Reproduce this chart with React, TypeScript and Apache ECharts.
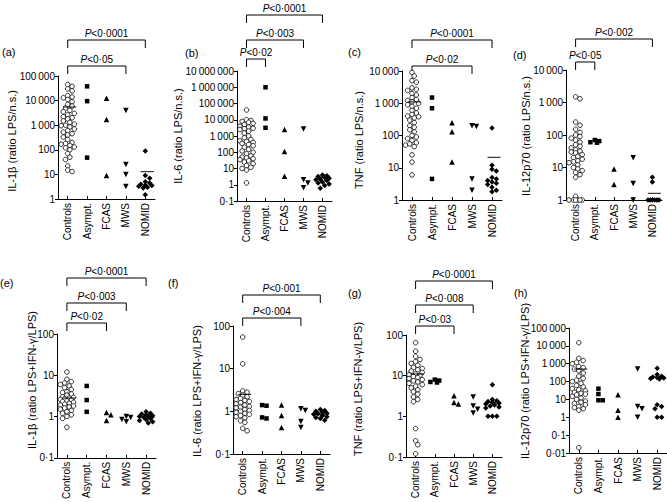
import { useEffect, useRef } from 'react';
import * as echarts from 'echarts';

const FONT = '"Liberation Sans", Arial, Helvetica, sans-serif';
const groups = ['Controls', 'Asympt.', 'FCAS', 'MWS', 'NOMID'];

// (a) IL-1β LPS/n.s.
const aControls = [45000, 38000, 30000, 25000, 16000, 14000, 13000, 11000, 9000, 7000, 6000, 5000, 4000, 3500, 3000, 2600, 2200, 2000, 1800, 1500, 1300, 1100, 1000, 950, 850, 700, 600, 520, 450, 400, 330, 260, 200, 180, 170, 150, 130, 120, 100, 70, 50, 40, 22, 15, 13];
const aAsympt = [38000, 9500, 48];
const aFCAS = [12500, 1700, 9];
const aMWS = [4000, 25, 10, 3.2];
const aNOMID = [90, 9, 7, 5, 4.5, 4, 3.6, 3.3, 3, 2.8, 3.5, 1.5];
const aMeans = [5500, null, null, null, 13];

// (b) IL-6 LPS/n.s.
const bControls = [40000, 10000, 9000, 8000, 7000, 6000, 5000, 4000, 3500, 3000, 2800, 2500, 2000, 1500, 1000, 800, 600, 500, 450, 400, 350, 300, 250, 200, 150, 120, 100, 80, 60, 50, 45, 40, 35, 30, 25, 20, 15, 12, 10, 8, 1.3];
const bAsympt = [1000000, 12000, 3200];
const bFCAS = [2500, 110, 3.3];
const bMWS = [2700, 2, 1.3, 0.65];
const bNOMID = [4, 3.6, 3.2, 2.8, 2.5, 2.2, 2, 1.8, 1.5, 1.3, 1.1, 0.9, 0.6];
const bMeans = [null, null, null, null, 2.8];

// (c) TNF LPS/n.s.
const cControls = [9000, 7000, 5000, 4500, 3000, 2700, 2500, 2000, 1800, 1500, 1300, 1200, 1100, 1000, 900, 800, 700, 600, 500, 450, 400, 380, 350, 300, 250, 200, 180, 150, 130, 100, 90, 80, 70, 60, 55, 50, 45, 25, 15, 6];
const cAsympt = [1500, 700, 4.5];
const cFCAS = [250, 130, 15];
const cMWS = [200, 190, 4.5, 2];
const cNOMID = [170, 12, 9, 8, 5, 4.5, 4, 3.6, 3.3, 3, 2.5, 2, 1.8];
const cMeans = [1100, null, null, null, 21];

// (d) IL-12p70 LPS/n.s.
const dControls = [1500, 1300, 250, 200, 150, 120, 100, 90, 80, 70, 60, 50, 45, 40, 35, 32, 30, 28, 25, 22, 20, 18, 16, 15, 14, 12, 10, 9, 8, 7, 6, 5, 1.3, 1, 1, 1, 1, 1, 1];
const dAsympt = [70, 65, 60, 58];
const dFCAS = [9, 3];
const dMWS = [20, 3.2, 1];
const dNOMID = [5, 3.6, 1, 1, 1, 1, 1, 1];
const dMeans = [null, null, null, null, 1.6];

// (e) IL-1β LPS+IFN-γ/LPS
const eControls = [12, 8, 7, 6.5, 6, 5.5, 5, 4.5, 4, 3.8, 3.5, 3.3, 3, 2.9, 2.8, 2.7, 2.6, 2.5, 2.4, 2.3, 2.2, 2.1, 2, 1.9, 1.8, 1.7, 1.6, 1.5, 1.4, 1.3, 1.2, 1.1, 1, 0.9, 0.55];
const eAsympt = [5.5, 2.5, 1.3];
const eFCAS = [1.25, 1.1, 0.8];
const eMWS = [1, 0.95, 0.85, 0.75];
const eNOMID = [1.3, 1.2, 1.15, 1.1, 1.05, 1, 1, 0.95, 0.9, 0.85, 0.8, 0.75, 0.7];
const eMeans = [2.8, null, null, null, 0.95];

// (f) IL-6 LPS+IFN-γ/LPS
const fControls = [55, 13, 3, 2.8, 2.6, 2.4, 2.2, 2, 1.9, 1.8, 1.7, 1.6, 1.5, 1.4, 1.3, 1.25, 1.2, 1.1, 1.05, 1, 0.95, 0.9, 0.85, 0.8, 0.75, 0.7, 0.6, 0.55, 0.4, 0.35];
const fAsympt = [1.4, 1.35, 0.72, 0.68];
const fFCAS = [1.4, 0.8, 0.42];
const fMWS = [1.15, 1.05, 0.58, 0.42];
const fNOMID = [1.1, 1.05, 1, 0.95, 0.9, 0.88, 0.85, 0.8, 0.75, 0.72, 0.68, 0.62];
const fMeans = [2.5, null, null, null, 0.85];

// (g) TNF LPS+IFN-γ/LPS
const gControls = [65, 40, 30, 25, 22, 20, 18, 16, 15, 14, 13, 12, 11, 10.5, 10, 9.5, 9, 8.5, 8, 7.5, 7, 6.5, 6, 5.5, 5, 4.5, 4, 3.5, 3, 2.6, 2.3, 0.5, 0.25, 0.2, 0.12];
const gAsympt = [8, 7.6, 7, 6.8];
const gFCAS = [3.2, 2.2, 2];
const gMWS = [3, 1.8, 1.5, 1.2];
const gNOMID = [6, 2.6, 2.4, 2.3, 2.2, 2.1, 2, 1.9, 1.8, 1.7, 1.6, 1, 1, 1];
const gMeans = [11, null, null, null, 2.2];

// (h) IL-12p70 LPS+IFN-γ/LPS
const hControls = [15000, 2000, 1500, 1200, 1000, 700, 600, 500, 400, 300, 200, 150, 120, 100, 80, 60, 50, 40, 35, 30, 25, 22, 20, 18, 15, 12, 10, 8, 7, 6, 5, 4, 3.5, 3, 2.5, 0.02];
const hAsympt = [40, 20, 9, 9];
const hFCAS = [18, 2.5, 1];
const hMWS = [500, 4, 3, 1];
const hNOMID = [550, 250, 200, 180, 170, 160, 150, 140, 5, 4, 3, 1, 1];
const hMeans = [500, null, null, null, 170];

type Bracket = { to: number; y: number; p: string };
type Panel = {
  letter: string; name: string; data: number[][]; means: (number | null)[];
  min: number; max: number;
  grid: { left: number; top: number; width: number; height: number };
  nameXY: [number, number]; letterXY: [number, number]; brackets: Bracket[];
};

const panels: Panel[] = [
  { letter: '(a)', name: 'IL-1β (ratio LPS/n.s.)', data: [aControls, aAsympt, aFCAS, aMWS, aNOMID], means: aMeans, min: 1, max: 1e5,
    grid: { left: 58, top: 76, width: 97, height: 123 }, nameXY: [12, 141], letterXY: [2, 52],
    brackets: [{ to: 4, y: 40, p: '0·0001' }, { to: 3, y: 66, p: '0·05' }] },
  { letter: '(b)', name: 'IL-6 (ratio LPS/n.s.)', data: [bControls, bAsympt, bFCAS, bMWS, bNOMID], means: bMeans, min: 0.1, max: 1e7,
    grid: { left: 237, top: 71, width: 95, height: 130 }, nameXY: [178, 136], letterXY: [185, 53],
    brackets: [{ to: 4, y: 15, p: '0·0001' }, { to: 3, y: 40, p: '0·003' }, { to: 1, y: 59, p: '0·02' }] },
  { letter: '(c)', name: 'TNF (ratio LPS/n.s.)', data: [cControls, cAsympt, cFCAS, cMWS, cNOMID], means: cMeans, min: 1, max: 1e4,
    grid: { left: 402, top: 71, width: 100, height: 129 }, nameXY: [359, 140], letterXY: [348, 52],
    brackets: [{ to: 4, y: 40, p: '0·0001' }, { to: 3, y: 66, p: '0·02' }] },
  { letter: '(d)', name: 'IL-12p70 (ratio LPS/n.s.)', data: [dControls, dAsympt, dFCAS, dMWS, dNOMID], means: dMeans, min: 1, max: 1e4,
    grid: { left: 566, top: 70, width: 96, height: 130 }, nameXY: [526, 136], letterXY: [513, 55],
    brackets: [{ to: 4, y: 39, p: '0·002' }, { to: 1, y: 62, p: '0·05' }] },
  { letter: '(e)', name: 'IL-1β (ratio LPS+IFN-γ/LPS)', data: [eControls, eAsympt, eFCAS, eMWS, eNOMID], means: eMeans, min: 0.1, max: 100,
    grid: { left: 57, top: 334, width: 99, height: 124 }, nameXY: [32, 380], letterXY: [0, 283],
    brackets: [{ to: 4, y: 278, p: '0·0001' }, { to: 3, y: 303, p: '0·003' }, { to: 2, y: 323, p: '0·02' }] },
  { letter: '(f)', name: 'IL-6 (ratio LPS+IFN-γ/LPS)', data: [fControls, fAsympt, fFCAS, fMWS, fNOMID], means: fMeans, min: 0.1, max: 100,
    grid: { left: 233, top: 326, width: 97, height: 128 }, nameXY: [197, 391], letterXY: [168, 283],
    brackets: [{ to: 4, y: 295, p: '0·001' }, { to: 3, y: 318, p: '0·004' }] },
  { letter: '(g)', name: 'TNF (ratio LPS+IFN-γ/LPS)', data: [gControls, gAsympt, gFCAS, gMWS, gNOMID], means: gMeans, min: 0.1, max: 100,
    grid: { left: 406, top: 335, width: 96, height: 122 }, nameXY: [358, 389], letterXY: [348, 293],
    brackets: [{ to: 4, y: 281, p: '0·0001' }, { to: 3, y: 305, p: '0·008' }, { to: 2, y: 326, p: '0·03' }] },
  { letter: '(h)', name: 'IL-12p70 (ratio LPS+IFN-γ/LPS)', data: [hControls, hAsympt, hFCAS, hMWS, hNOMID], means: hMeans, min: 0.01, max: 1e5,
    grid: { left: 569, top: 328, width: 98, height: 125 }, nameXY: [525, 381], letterXY: [514, 293],
    brackets: [] },
];

const markers = [
  { symbol: 'circle', size: 4.6, rotate: 0, color: '#fff', borderColor: '#000', borderWidth: 0.8 },
  { symbol: 'rect', size: 4.5, rotate: 0, color: '#000', borderColor: '#000', borderWidth: 0 },
  { symbol: 'triangle', size: 5.5, rotate: 0, color: '#000', borderColor: '#000', borderWidth: 0 },
  { symbol: 'triangle', size: 5.5, rotate: 180, color: '#000', borderColor: '#000', borderWidth: 0 },
  { symbol: 'diamond', size: 5.5, rotate: 0, color: '#000', borderColor: '#000', borderWidth: 0 },
];

function fmt(v: number): string {
  if (v < 1) return String(+v.toPrecision(3)).replace('.', '·');
  const s = Math.round(v).toString();
  return s.replace(/\B(?=(\d{3})+(?!\d))/g, '\u2009');
}

// compact beeswarm: horizontal pixel offsets, limited width, light overlap allowed
function swarm(values: number[], pxPerDec: number, dist: number, step: number, maxOff: number): number[] {
  const order = values.map((_, i) => i).sort((a, b) => values[b] - values[a]);
  const placed: { x: number; y: number }[] = [];
  const off = new Array(values.length).fill(0);
  const cands: number[] = [0];
  for (let s = step; s <= maxOff + 1e-6; s += step) cands.push(s, -s);
  for (const i of order) {
    const y = Math.log10(values[i]) * pxPerDec;
    let best = 0;
    let bestD = -1;
    for (const x of cands) {
      const md = placed.reduce((m, p) => Math.min(m, Math.hypot(p.x - x, p.y - y)), Infinity);
      if (md >= dist) { best = x; bestD = Infinity; break; }
      if (md > bestD) { bestD = md; best = x; }
    }
    off[i] = best;
    placed.push({ x: best, y });
  }
  return off;
}

export default function App() {
  const ref = useRef<HTMLDivElement>(null);
  useEffect(() => {
    if (!ref.current) return;
    const chart = echarts.init(ref.current, undefined, { renderer: 'svg' });
    const grid: any[] = [];
    const xAxis: any[] = [];
    const yAxis: any[] = [];
    const series: any[] = [];
    const graphic: any[] = [];
    const black = '#000';

    panels.forEach((p, k) => {
      grid.push({ ...p.grid, containLabel: false });
      xAxis.push({
        type: 'category', gridIndex: k, data: groups, boundaryGap: true,
        axisLine: { show: true, onZero: false, lineStyle: { color: black, width: 1 } },
        axisTick: { show: true, inside: true, alignWithLabel: true, length: 3, lineStyle: { color: black } },
        axisLabel: { rotate: 90, interval: 0, fontSize: 10, margin: 4, color: black, fontFamily: FONT },
        splitLine: { show: false },
      });
      xAxis.push({ type: 'value', gridIndex: k, min: 0, max: 5, show: false });
      yAxis.push({
        type: 'log', logBase: 10, gridIndex: k, min: p.min, max: p.max,
        axisLine: { show: true, onZero: false, lineStyle: { color: black, width: 1 } },
        axisTick: { show: true, length: 3, lineStyle: { color: black } },
        axisLabel: { fontSize: 10, margin: 3, color: black, fontFamily: FONT, formatter: (v: number) => fmt(v) },
        splitLine: { show: false }, minorTick: { show: false },
      });
      const spacing = p.grid.width / 5;
      const pxPerDec = p.grid.height / (Math.log10(p.max) - Math.log10(p.min));
      p.data.forEach((vals, g) => {
        const m = markers[g];
        const offs = swarm(vals, pxPerDec, 4, 2.2, 8.5);
        series.push({
          type: 'scatter', xAxisIndex: 2 * k + 1, yAxisIndex: k,
          symbol: m.symbol, symbolSize: m.size, symbolRotate: m.rotate,
          itemStyle: { color: m.color, borderColor: m.borderColor, borderWidth: m.borderWidth, opacity: 1 },
          emphasis: { disabled: true },
          data: vals.map((v, j) => [g + 0.5 + offs[j] / spacing, v]),
          z: 3,
        });
      });
      series.push({
        type: 'scatter', xAxisIndex: 2 * k + 1, yAxisIndex: k,
        symbol: 'rect', symbolSize: [13, 1.2],
        itemStyle: { color: black },
        data: p.means.map((v, g) => (v == null ? null : [g + 0.5 + 0.1, v])).filter((d) => d),
        z: 4,
      });

      const cx = (i: number) => p.grid.left + (i + 0.5) * spacing;
      graphic.push({
        type: 'text', x: p.letterXY[0], y: p.letterXY[1],
        style: { text: p.letter, fontSize: 11, fontFamily: FONT, fill: black, align: 'left', verticalAlign: 'middle' },
      });
      graphic.push({
        type: 'text', x: p.nameXY[0], y: p.nameXY[1], rotation: Math.PI / 2,
        style: { text: p.name, fontSize: 11, fontFamily: FONT, fill: black, align: 'center', verticalAlign: 'middle' },
      });
      p.brackets.forEach((b) => {
        const x1 = cx(0);
        const x2 = cx(b.to);
        graphic.push({
          type: 'polyline',
          shape: { points: [[x1, b.y + 8], [x1, b.y], [x2, b.y], [x2, b.y + 8]] },
          style: { stroke: black, lineWidth: 1, fill: null },
        });
        graphic.push({
          type: 'text', x: (x1 + x2) / 2, y: b.y - 2,
          style: {
            text: '{i|P}<' + b.p, fontSize: 10, fontFamily: FONT, fill: black, align: 'center', verticalAlign: 'bottom',
            rich: { i: { fontStyle: 'italic', fontSize: 10, fontFamily: FONT, fill: black } },
          },
        });
      });
    });

    chart.setOption({
      animation: false,
      backgroundColor: '#fff',
      textStyle: { fontFamily: FONT },
      grid, xAxis, yAxis, series, graphic,
    });
    return () => chart.dispose();
  }, []);
  return <div ref={ref} style={{ position: 'fixed', left: 0, top: 0, width: 667, height: 502 }} />;
}
